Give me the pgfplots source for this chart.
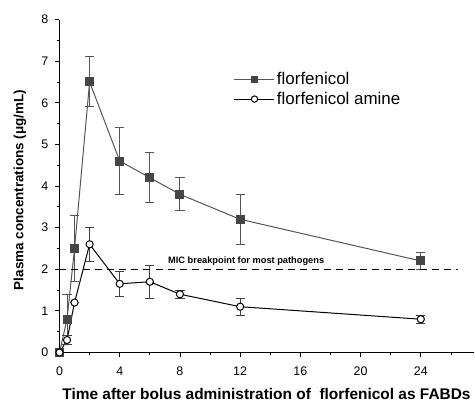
\documentclass[border=0pt]{standalone}
\usepackage{fontspec}
\setmainfont{Liberation Sans}
\usepackage{pgfplots}
\pgfplotsset{compat=1.18}
\definecolor{ffline}{HTML}{555555}
\definecolor{ffmark}{HTML}{454545}

\pgfplotstableread{
t   c    e
0   0    0
0.5 0.8  0.6
1   2.5  0.8
2   6.5  0.6
4   4.6  0.8
6   4.2  0.6
8   3.8  0.4
12  3.2  0.6
24  2.2  0.2
}\florfenicol

\pgfplotstableread{
t   c    e
0   0    0
0.5 0.3  0.1
1   1.2  0.0
2   2.6  0.4
4   1.65 0.3
6   1.7  0.4
8   1.4  0.1
12  1.1  0.2
24  0.8  0.1
}\amine

\begin{document}
\begin{tikzpicture}
\begin{axis}[
  scale only axis,
  width=414bp, height=333bp,
  xmin=0, xmax=27.5, ymin=0, ymax=8,
  axis lines=left, axis line style={-, line width=0.8pt},
  clip=false,
  xtick={0,4,...,24}, minor xtick={2,6,...,26},
  ytick={0,1,...,8}, minor ytick={0.5,1.5,...,7.5},
  tick align=outside, tick pos=left,
  major tick length=4bp, minor tick length=2.5bp,
  every tick/.style={black, line width=0.8pt},
  tick label style={font=\fontsize{12.5}{12.5}\selectfont, inner sep=0pt},
  xticklabel style={anchor=north, yshift=-10.5bp},
  yticklabel style={anchor=east, xshift=-7bp},
  /pgf/number format/assume math mode=true,
  xlabel={\textbf{Time after bolus administration of\ \ florfenicol as FABDs}},
  ylabel={\textbf{Plasma concentrations (μg/mL)}},
  xlabel style={font=\fontsize{15.5}{16}\selectfont, at={(axis description cs:0.5,0)},
    anchor=base, inner sep=0pt, yshift=-46.5bp},
  ylabel style={font=\fontsize{13.5}{14}\selectfont, at={(axis description cs:0,0.488)},
    anchor=south, inner sep=0pt, yshift=33bp},
  legend style={draw=none, fill=none, at={(0.4215,0.847)}, anchor=north west,
    inner sep=0pt, outer sep=0pt, row sep=2bp,
    font=\fontsize{17}{19}\selectfont,
    /tikz/every even column/.append style={column sep=0bp}},
  legend cell align=left,
  legend image code/.code={
    \draw[#1, mark=none] (0bp,0bp) -- (40bp,0bp);
    \draw[#1, only marks, mark size=3.2pt] plot coordinates {(20bp,0bp)};
  },
]
\coordinate (O) at (rel axis cs:0,0);
\addplot[ffline, line width=1pt, mark=square*, mark size=4pt,
  mark options={fill=ffmark, draw=ffmark},
  error bars/.cd, y dir=both, y explicit,
  error bar style={line width=1pt, ffline},
  error mark options={rotate=90, mark size=4.6pt, line width=1pt, ffline}]
  table[x=t, y=c, y error=e] {\florfenicol};
\addlegendentry{florfenicol}
\addplot[black, line width=1pt, mark=*, mark size=3.6pt,
  mark options={fill=white, draw=black, line width=1pt},
  error bars/.cd, y dir=both, y explicit,
  error bar style={line width=0.8pt, black!75},
  error mark options={rotate=90, mark size=4.6pt, line width=0.8pt, black!75}]
  table[x=t, y=c, y error=e] {\amine};
\addlegendentry{florfenicol amine}
\addplot[black, line width=1pt, dash pattern=on 7bp off 5bp, forget plot]
  coordinates {(0,2) (26.5,2)};
\node[font=\bfseries\fontsize{9.3}{10}\selectfont, anchor=south, inner sep=0pt]
  at (axis cs:12.4,2.08) {MIC breakpoint for most pathogens};
\end{axis}
\pgfresetboundingbox
\path[use as bounding box] ([xshift=-59.5bp, yshift=-49.5bp]O)
  rectangle ([xshift=415.5bp, yshift=352.5bp]O);
\end{tikzpicture}
\end{document}
